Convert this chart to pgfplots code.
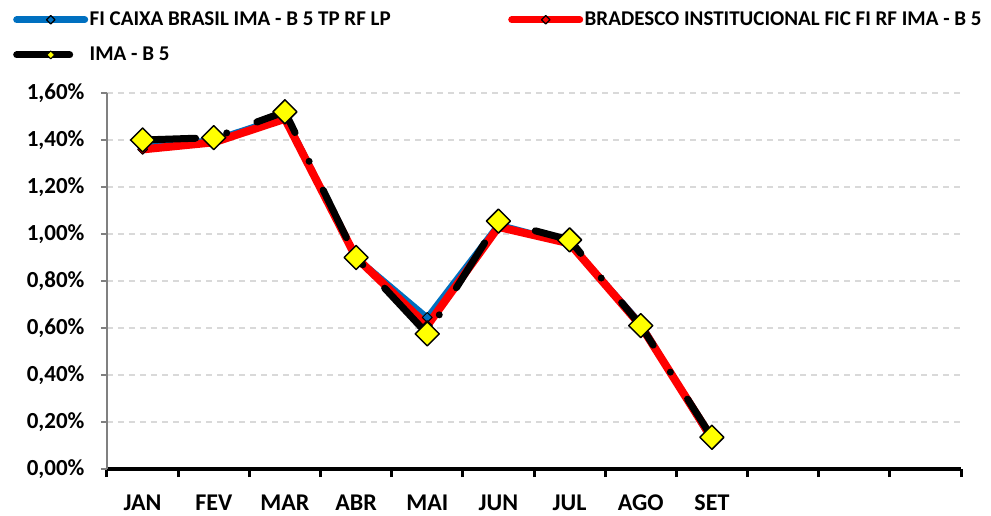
\documentclass[border=0pt]{standalone}
\usepackage{fontspec}
\setmainfont{Carlito}
\usepackage{pgfplots}
\pgfplotsset{compat=1.18}
\definecolor{cblue}{RGB}{0,112,192}
\definecolor{cred}{RGB}{255,0,0}
\definecolor{cyel}{RGB}{255,255,0}
\definecolor{cgrid}{RGB}{217,217,217}
\begin{document}
\begin{tikzpicture}[x=1pt,y=1pt]
\useasboundingbox (0,0) rectangle (991,515);
\begin{axis}[
  at={(107pt,46pt)}, anchor=south west,
  scale only axis, width=854pt, height=376pt,
  xmin=0.5, xmax=12.5, ymin=0, ymax=1.6,
  clip=false,
  axis x line*=bottom, axis y line*=left,
  axis line style={-},
  x axis line style={black, line width=4pt, -},
  y axis line style={gray, line width=1.5pt, -},
  tick align=outside,
  xtick={1,2,3,4,5,6,7,8,9},
  xticklabels={JAN,FEV,MAR,ABR,MAI,JUN,JUL,AGO,SET},
  major x tick style={draw=none},
  minor xtick={0.5,1.5,2.5,3.5,4.5,5.5,6.5,7.5,8.5,9.5,10.5,11.5,12.5},
  minor x tick style={black, line width=3pt},
  minor tick length=8pt,
  major tick length=6pt,
  ytick={0,0.2,0.4,0.6,0.8,1,1.2,1.4,1.6},
  y tick style={gray, line width=1.5pt},
  ymajorgrids,
  y grid style={cgrid, line width=1.5pt, dash pattern=on 6pt off 5pt},
  /pgf/number format/assume math mode=true,
  yticklabel={\pgfmathprintnumber[fixed,fixed zerofill,precision=2,use comma]{\tick}\%},
  yticklabel style={font=\fontsize{23}{26}\selectfont\bfseries, xshift=-13pt},
  xticklabel style={font=\fontsize{24}{27}\selectfont\bfseries, yshift=-16pt},
  legend columns=2,
  legend cell align=left,
  legend style={at={(-0.1136,1.225)}, anchor=north west, draw=none, fill=none,
    font=\fontsize{21}{24}\selectfont\bfseries,
    nodes={inner sep=1.5pt},
    /tikz/column 1/.style={column sep=0pt},
    /tikz/column 2/.style={column sep=116pt},
    /tikz/column 3/.style={column sep=0pt},
    row sep=17pt},
]
\addplot[cblue, line width=6pt, line join=round, mark=square*, mark size=3.5pt,
  mark options={rotate=45, fill=cblue, draw=black, line width=1pt, solid},
  legend image code/.code={\draw[cblue, line width=7pt, line cap=round, mark=square*, mark size=3pt,
    mark options={rotate=45, fill=cblue, draw=black, line width=1.2pt, solid}, mark repeat=2, mark phase=2]
    plot coordinates {(0pt,0pt) (34pt,0pt) (68pt,0pt)};}]
  coordinates {(1,1.37)(2,1.40)(3,1.50)(4,0.90)(5,0.645)(6,1.04)(7,0.96)(8,0.62)(9,0.12)};
\addlegendentry{FI CAIXA BRASIL IMA - B 5 TP RF LP}
\addplot[cred, line width=8pt, line join=round, mark=square*, mark size=3.5pt,
  mark options={rotate=45, fill=cred, draw=black, line width=1pt, solid},
  legend image code/.code={\draw[cred, line width=7pt, line cap=round, mark=square*, mark size=3pt,
    mark options={rotate=45, fill=cred, draw=black, line width=1.2pt, solid}, mark repeat=2, mark phase=2]
    plot coordinates {(0pt,0pt) (34pt,0pt) (68pt,0pt)};}]
  coordinates {(1,1.36)(2,1.39)(3,1.49)(4,0.90)(5,0.61)(6,1.03)(7,0.96)(8,0.61)(9,0.13)};
\addlegendentry{BRADESCO INSTITUCIONAL FIC FI RF IMA - B 5}
\addplot[black, line width=7pt, line cap=round, line join=round, dash pattern=on 53pt off 32pt on 0pt off 32pt,
  mark=square*, mark size=8.5pt,
  mark options={rotate=45, fill=cyel, draw=black, line width=1.5pt, solid},
  legend image code/.code={\draw[black, line width=7pt, line cap=round, dash pattern=on 53pt off 32pt on 0pt off 32pt,
    mark=square*, mark size=2.8pt,
    mark options={rotate=45, fill=cyel, draw=black, line width=1pt, solid}, mark repeat=2, mark phase=2]
    plot coordinates {(0pt,0pt) (34pt,0pt) (68pt,0pt)};}]
  coordinates {(1,1.40)(2,1.41)(3,1.52)(4,0.90)(5,0.575)(6,1.055)(7,0.975)(8,0.61)(9,0.135)};
\addlegendentry{IMA - B 5}
\end{axis}
\end{tikzpicture}
\end{document}
